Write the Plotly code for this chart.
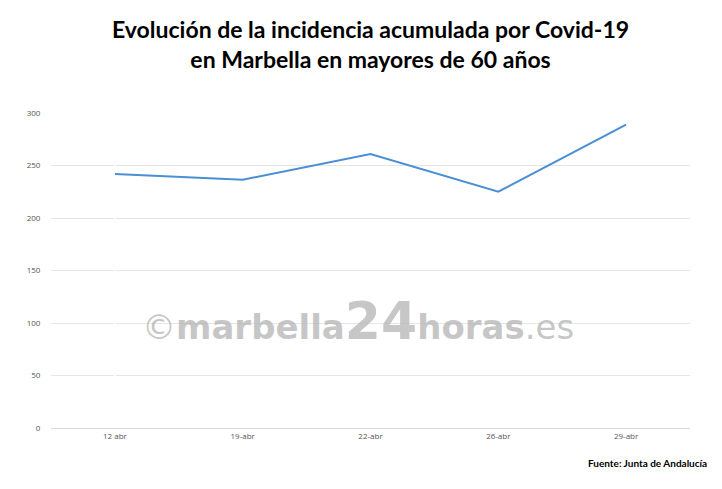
import plotly.graph_objects as go

fechas = ["12 abr", "19-abr", "22-abr", "26-abr", "29-abr"]
incidencia = [242, 236.5, 261, 225, 289]
pos = list(range(len(fechas)))

fig = go.Figure(go.Scatter(x=pos, y=incidencia, mode="lines",
                           line=dict(color="#4a8fd4", width=2)))
fig.update_layout(
    width=722, height=489, plot_bgcolor="white", paper_bgcolor="white",
    margin=dict(l=43, r=40, t=105, b=69), showlegend=False,
    font=dict(family="Open Sans", size=8, color="#555"),
)
fig.update_xaxes(range=[-0.5, 4.5], tickvals=pos, ticktext=fechas,
                 showline=True, linecolor="#d9d9d9", ticks="", showgrid=False)
fig.update_yaxes(range=[0, 300], dtick=50, gridcolor="#e6e6e6", zeroline=False,
                 showline=False, ticks="outside", ticklen=8, tickcolor="white")
fig.add_annotation(text="<b>Evolución de la incidencia acumulada por Covid-19<br>en Marbella en mayores de 60 años</b>",
                   xref="paper", yref="paper", x=0.5, y=1, yanchor="bottom", yshift=38,
                   showarrow=False, font=dict(family="Lato, Noto Sans", size=23, color="black"))
fig.add_annotation(text="©<b>marbella</b><b><span style='font-size:52px'>24</span>horas</b>.es",
                   xref="paper", yref="paper", x=0.48, y=0.34, showarrow=False,
                   font=dict(family="DejaVu Sans", size=34, color="rgba(180,180,180,0.75)"))
fig.add_annotation(text="<b>Fuente: Junta de Andalucía</b>", xref="paper", yref="paper",
                   x=1.03, y=-0.135, xanchor="right", showarrow=False,
                   font=dict(family="Lato", size=10, color="black"))
fig.write_html("out.html")
